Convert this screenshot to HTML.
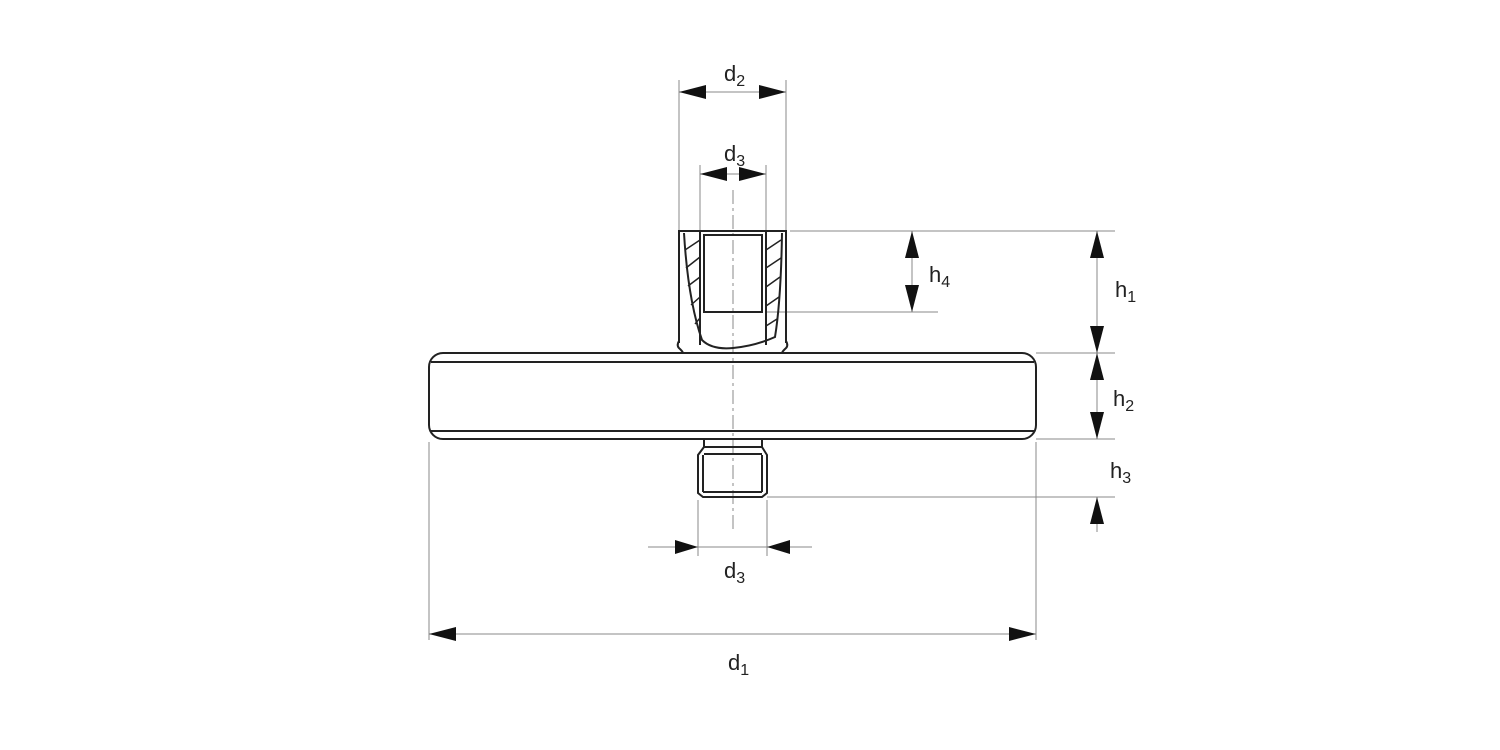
<!DOCTYPE html>
<html><head><meta charset="utf-8"><style>html,body{margin:0;padding:0;background:#fff}svg{display:block}text{font-family:"Liberation Sans",Arial,sans-serif;fill:#222}</style></head><body>
<svg width="1500" height="750" viewBox="0 0 1500 750" xmlns="http://www.w3.org/2000/svg">
<g stroke="#888" stroke-width="1" fill="none">
<line x1="679" y1="80" x2="679" y2="231"/>
<line x1="786" y1="80" x2="786" y2="231"/>
<line x1="700" y1="165" x2="700" y2="231"/>
<line x1="766" y1="165" x2="766" y2="231"/>
<line x1="790" y1="231" x2="1115" y2="231"/>
<line x1="766" y1="312" x2="938" y2="312"/>
<line x1="1036" y1="353" x2="1115" y2="353"/>
<line x1="1036" y1="439" x2="1115" y2="439"/>
<line x1="767" y1="497" x2="1115" y2="497"/>
<line x1="429" y1="442" x2="429" y2="640"/>
<line x1="1036" y1="442" x2="1036" y2="640"/>
<line x1="698" y1="500" x2="698" y2="556"/>
<line x1="767" y1="500" x2="767" y2="556"/>
<line x1="679" y1="92" x2="786" y2="92"/>
<line x1="700" y1="174" x2="766" y2="174"/>
<line x1="912" y1="231" x2="912" y2="312"/>
<line x1="1097" y1="231" x2="1097" y2="439"/>
<line x1="1097" y1="497" x2="1097" y2="532"/>
<line x1="648" y1="547" x2="812" y2="547"/>
<line x1="429" y1="634" x2="1036" y2="634"/>
<line x1="733" y1="190" x2="733" y2="530" stroke-dasharray="14,4,3,4"/>
</g>
<g fill="#111">
<path d="M679,92 L706,85 L706,99Z"/><path d="M786,92 L759,85 L759,99Z"/>
<path d="M700,174 L727,167 L727,181Z"/><path d="M766,174 L739,167 L739,181Z"/>
<path d="M912,231 L905,258 L919,258Z"/><path d="M912,312 L905,285 L919,285Z"/>
<path d="M1097,231 L1090,258 L1104,258Z"/><path d="M1097,353 L1090,326 L1104,326Z"/>
<path d="M1097,353 L1090,380 L1104,380Z"/><path d="M1097,439 L1090,412 L1104,412Z"/>
<path d="M1097,497 L1090,524 L1104,524Z"/>
<path d="M698,547 L675,540 L675,554Z"/><path d="M767,547 L790,540 L790,554Z"/>
<path d="M429,634 L456,627 L456,641Z"/><path d="M1036,634 L1009,627 L1009,641Z"/>
</g>
<g stroke="#222" stroke-width="2" fill="none">
<rect x="429" y="353" width="607" height="86" rx="14" ry="14"/>
<line x1="431" y1="362" x2="1034" y2="362"/>
<line x1="431" y1="431" x2="1034" y2="431"/>
<path d="M679,343 L679,231 L786,231 L786,343"/>
<path d="M679,341 Q676,346 680,349 Q683,352 683,353"/>
<path d="M786,341 Q789,346 785,349 Q782,352 782,353"/>
<line x1="700" y1="231" x2="700" y2="345"/>
<line x1="766" y1="231" x2="766" y2="345"/>
<rect x="704" y="235" width="58" height="77"/>
<path d="M684,233 Q688,300 702,340 Q712,350 733,348 Q755,346 775,337 Q781,300 782,233"/>
<path d="M704,439 L704,447 L698,455 L698,493 L703,497 L762,497 L767,493 L767,455 L762,447 L762,439"/>
<line x1="704" y1="447" x2="762" y2="447"/>
<line x1="704" y1="454" x2="762" y2="454"/>
<line x1="703" y1="455" x2="703" y2="492"/>
<line x1="762" y1="455" x2="762" y2="492"/>
<line x1="703" y1="492" x2="762" y2="492"/>
</g>
<g stroke="#222" stroke-width="1.5">
<line x1="685" y1="250" x2="700" y2="240"/>
<line x1="686" y1="268" x2="700" y2="257"/>
<line x1="688" y1="286" x2="700" y2="277"/>
<line x1="691" y1="305" x2="700" y2="297"/>
<line x1="695" y1="324" x2="700" y2="318"/>
<line x1="766" y1="250" x2="781" y2="240"/>
<line x1="766" y1="268" x2="781" y2="258"/>
<line x1="766" y1="287" x2="780" y2="277"/>
<line x1="766" y1="306" x2="779" y2="297"/>
<line x1="766" y1="326" x2="777" y2="319"/>
</g>
<g font-size="22">
<text x="724" y="81">d<tspan font-size="16" dy="5">2</tspan></text>
<text x="724" y="161">d<tspan font-size="16" dy="5">3</tspan></text>
<text x="929" y="282">h<tspan font-size="16" dy="5">4</tspan></text>
<text x="1115" y="297">h<tspan font-size="16" dy="5">1</tspan></text>
<text x="1113" y="406">h<tspan font-size="16" dy="5">2</tspan></text>
<text x="1110" y="478">h<tspan font-size="16" dy="5">3</tspan></text>
<text x="724" y="578">d<tspan font-size="16" dy="5">3</tspan></text>
<text x="728" y="670">d<tspan font-size="16" dy="5">1</tspan></text>
</g>
</svg>
</body></html>
